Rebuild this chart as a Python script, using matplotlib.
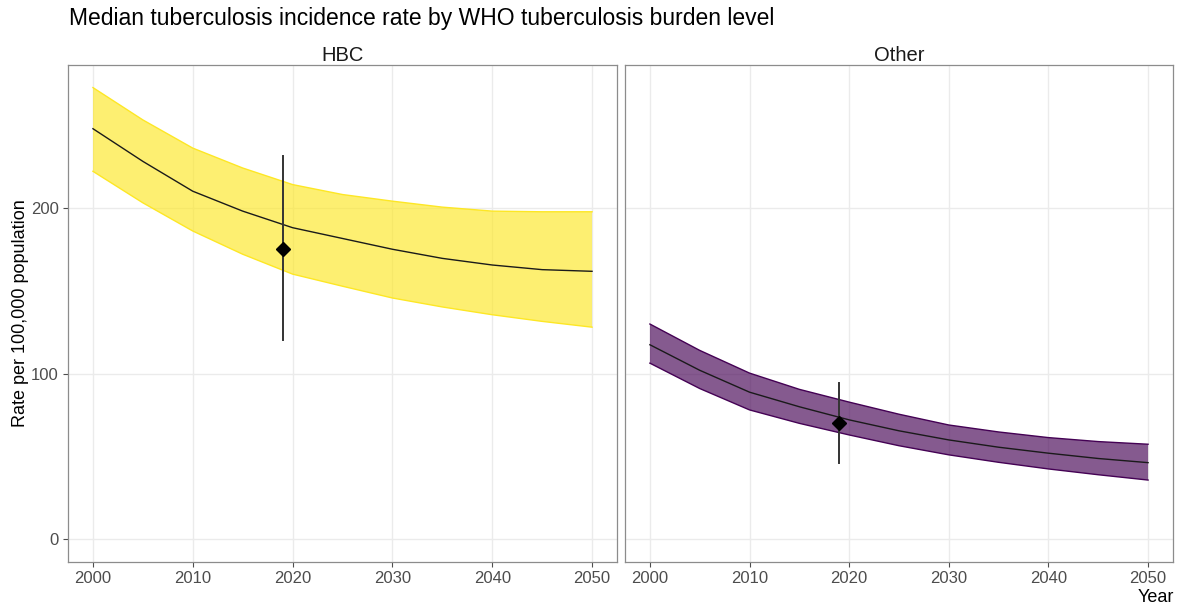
import matplotlib
matplotlib.use("Agg")
import matplotlib.pyplot as plt

plt.rcParams["font.family"] = ["Liberation Sans", "DejaVu Sans"]

years = [2000, 2005, 2010, 2015, 2020, 2025, 2030, 2035, 2040, 2045, 2050]

hbc_median = [247.7, 228, 210, 198, 188, 181.5, 175, 169.5, 165.5, 162.7, 161.7]
hbc_upper = [272.5, 253, 236, 224, 214, 208, 204, 200.4, 198, 197.6, 197.6]
hbc_lower = [222, 203, 186, 172, 160, 152.7, 145.6, 140.2, 135.5, 131.5, 128]

other_median = [117.4, 102, 88.8, 80, 72.1, 65.5, 60, 55.6, 52, 48.8, 46.3]
other_upper = [129.9, 114, 100.3, 90.5, 82.8, 75.5, 69, 64.8, 61.4, 59, 57.4]
other_lower = [106.3, 91, 78.1, 70, 63, 56.5, 51, 46.5, 42.5, 39, 35.8]

obs_year = 2019
hbc_obs = 175.4
hbc_obs_low, hbc_obs_high = 120, 231
other_obs = 70.1
other_obs_low, other_obs_high = 46, 94.5

panels = ["HBC", "Other"]
colors = ["#FDE725", "#440154"]

W, H = 1180, 607
fig = plt.figure(figsize=(W / 100, H / 100), dpi=100)

def px_box(x0, x1, y0, y1):
    return [x0 / W, 1 - y1 / H, (x1 - x0) / W, (y1 - y0) / H]

ax1 = fig.add_axes(px_box(68, 617, 65, 562))
ax2 = fig.add_axes(px_box(625, 1173, 65, 562))

series = [
    (ax1, hbc_median, hbc_upper, hbc_lower, hbc_obs, hbc_obs_low, hbc_obs_high),
    (ax2, other_median, other_upper, other_lower, other_obs, other_obs_low, other_obs_high),
]

ymin, ymax = 0, 272.5
ypad = (ymax - ymin) * 0.05
xpad = (2050 - 2000) * 0.05

for i, (ax, med, up, lo, pt, plo, phi) in enumerate(series):
    col = colors[i]
    ax.fill_between(years, lo, up, facecolor=col, alpha=0.65, edgecolor="none", zorder=2)
    ax.plot(years, up, color=col, lw=1.0, zorder=3)
    ax.plot(years, lo, color=col, lw=1.0, zorder=3)
    ax.plot(years, med, color="#1a1a1a", lw=1.0, zorder=4)
    ax.plot([obs_year, obs_year], [plo, phi], color="#333333", lw=1.4, zorder=5)
    ax.plot([obs_year], [pt], marker="D", color="black", markersize=7, zorder=6, linestyle="none")

    ax.set_xlim(2000 - xpad, 2050 + xpad)
    ax.set_ylim(ymin - ypad, ymax + ypad)
    ax.set_xticks([2000, 2010, 2020, 2030, 2040, 2050])
    ax.set_yticks([0, 100, 200])
    ax.grid(True, color="#EBEBEB", lw=1.0, zorder=0)
    ax.set_axisbelow(True)
    for s in ax.spines.values():
        s.set_color("#8C8C8C")
        s.set_linewidth(0.9)
    ax.tick_params(axis="both", colors="#4D4D4D", labelcolor="#4D4D4D",
                   labelsize=12, length=3.5, width=0.8, pad=3)
    ax.set_title(panels[i], fontsize=14.5, color="#1a1a1a", pad=3)

ax2.tick_params(axis="y", labelleft=False, length=0)

fig.text(69 / W, 1 - 25 / H, "Median tuberculosis incidence rate by WHO tuberculosis burden level",
         fontsize=16.5, color="black", ha="left", va="baseline")
fig.text(21 / W, 1 - 313 / H, "Rate per 100,000 population", rotation=90,
         fontsize=13, color="black", ha="center", va="center")
fig.text(1174 / W, 1 - 597 / H, "Year", fontsize=13, color="black", ha="right", va="center")

fig.savefig("out.png", dpi=100)
